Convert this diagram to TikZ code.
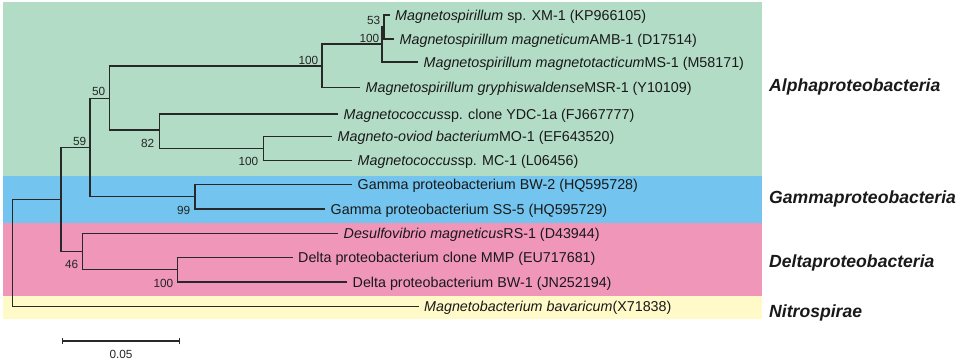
\documentclass[tikz,border=0pt]{standalone}
\usepackage{fontspec}
\setmainfont{Liberation Sans}

\definecolor{alphagreen}{RGB}{179,220,199}
\definecolor{gammablue}{RGB}{115,196,238}
\definecolor{deltapink}{RGB}{240,150,185}
\definecolor{nitroyellow}{RGB}{255,250,200}
\definecolor{treeline}{RGB}{40,40,40}

\tikzset{
    branch/.style={draw=treeline, line width=1.15pt},
    leaf/.style={anchor=west, inner xsep=5.5pt, inner ysep=0pt, text height=10.2pt, text depth=0pt,
        font=\fontsize{14.3}{16}\selectfont, text=black!90},
    boot/.style={anchor=east, inner sep=0pt, text height=8.4pt, text depth=0pt,
        font=\fontsize{11.8}{13}\selectfont, text=black!85},
    clade/.style={anchor=west, inner sep=0pt, text height=12.4pt, text depth=0pt,
        font=\fontsize{17.6}{20}\selectfont\bfseries\itshape, text=black!90}
}

\begin{document}
\begin{tikzpicture}[x=1pt, y=-1pt]
        \useasboundingbox (0,0) rectangle (963,360);

        % 1. Coloured bands for the four groups
        \fill[alphagreen]  (3,2)   rectangle (762,175.5);
        \fill[gammablue]   (3,175.5) rectangle (762,223);
        \fill[deltapink]   (3,223) rectangle (762,295.5);
        \fill[nitroyellow] (3,295.5) rectangle (762,318.5);

        % 2. Leaves (west anchor = tip of the branch)
        \node[leaf] (l1)  at (389.5,15)  {\textit{Magnetospirillum} sp. XM-1 (KP966105)};
        \node[leaf] (l2)  at (394,39)    {\textit{Magnetospirillum magneticum}AMB-1 (D17514)};
        \node[leaf] (l3)  at (418,62)    {\textit{Magnetospirillum magnetotacticum}MS-1 (M58171)};
        \node[leaf] (l4)  at (360,87.3)  {\textit{Magnetospirillum gryphiswaldense}MSR-1 (Y10109)};
        \node[leaf] (l5)  at (338,114)   {\textit{Magnetococcus}sp. clone YDC-1a (FJ667777)};
        \node[leaf] (l6)  at (332,136.7) {\textit{Magneto-oviod bacterium}MO-1 (EF643520)};
        \node[leaf] (l7)  at (352,160.7) {\textit{Magnetococcus}sp. MC-1 (L06456)};
        \node[leaf] (l8)  at (352,184.7) {Gamma proteobacterium BW-2 (HQ595728)};
        \node[leaf] (l9)  at (325,209)   {Gamma proteobacterium SS-5 (HQ595729)};
        \node[leaf] (l10) at (338,233.3) {\textit{Desulfovibrio magneticus}RS-1 (D43944)};
        \node[leaf] (l11) at (292.5,257.7) {Delta proteobacterium clone MMP (EU717681)};
        \node[leaf] (l12) at (347,282)   {Delta proteobacterium BW-1 (JN252194)};
        \node[leaf] (l13) at (418.5,306.5) {\textit{Magnetobacterium bavaricum}(X71838)};

        % 3. Internal nodes
        \coordinate (n53)   at (384,27);
        \coordinate (nA100) at (382,44);
        \coordinate (nB100) at (322,66);
        \coordinate (nC100) at (263.3,148.7);
        \coordinate (n82)   at (159.3,130);
        \coordinate (n50)   at (109.7,98.3);
        \coordinate (n99)   at (195,196.8);
        \coordinate (n59)   at (90,147.5);
        \coordinate (nD100) at (177.7,269.8);
        \coordinate (n46)   at (82.5,251.5);
        \coordinate (nX)    at (61,199.3);
        \coordinate (root)  at (12.3,253);

        % 4. Branches
        \draw[branch] (n53) |- (l1.west)  (n53) |- (l2.west);
        \draw[branch] (nA100) |- (n53)    (nA100) |- (l3.west);
        \draw[branch] (nB100) |- (nA100)  (nB100) |- (l4.west);
        \draw[branch] (nC100) |- (l6.west) (nC100) |- (l7.west);
        \draw[branch] (n82) |- (l5.west)  (n82) |- (nC100);
        \draw[branch] (n50) |- (nB100)    (n50) |- (n82);
        \draw[branch] (n99) |- (l8.west)  (n99) |- (l9.west);
        \draw[branch] (n59) |- (n50)      (n59) |- (n99);
        \draw[branch] (nD100) |- (l11.west) (nD100) |- (l12.west);
        \draw[branch] (n46) |- (l10.west) (n46) |- (nD100);
        \draw[branch] (nX) |- (n59)       (nX) |- (n46);
        \draw[branch] (root) |- (nX)      (root) |- (l13.west);

        % 5. Bootstrap values
        \node[boot] (b53)   at (380.5,20.3)  {53};
        \node[boot] (bA100) at (379.5,38.3)  {100};
        \node[boot] (bB100) at (318.5,60)    {100};
        \node[boot] (b50)   at (105.5,91)    {50};
        \node[boot] (b82)   at (154.5,143.7) {82};
        \node[boot] (bC100) at (258.5,161.7) {100};
        \node[boot] (b59)   at (86.5,141.7)  {59};
        \node[boot] (b99)   at (190.5,210.7) {99};
        \node[boot] (b46)   at (78.5,264.7)  {46};
        \node[boot] (bD100) at (173.5,283)   {100};

        % 6. Group names
        \node[clade] (alpha) at (769,85.5)  {Alphaproteobacteria};
        \node[clade] (gamma) at (769,197.5) {Gammaproteobacteria};
        \node[clade] (delta) at (769,261.7) {Deltaproteobacteria};
        \node[clade] (nitro) at (769,310.8) {Nitrospirae};

        % 7. Scale bar
        \coordinate (sbL) at (62.7,341);
        \coordinate (sbR) at (179.3,341);
        \draw[branch] (sbL) -- (sbR);
        \draw[branch] ([yshift=-3.3pt]sbL) -- ([yshift=3.3pt]sbL);
        \draw[branch] ([yshift=-3.3pt]sbR) -- ([yshift=3.3pt]sbR);
        \node[boot, anchor=center] (sblab) at (121,354) {0.05};

    \end{tikzpicture}
\end{document}
